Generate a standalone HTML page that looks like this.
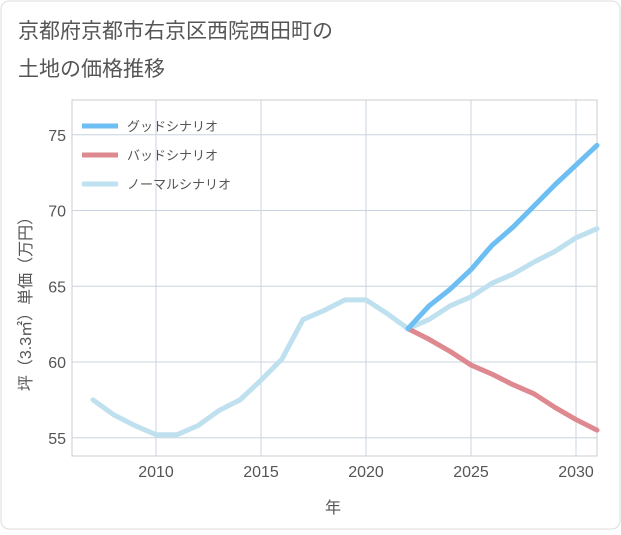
<!DOCTYPE html>
<html><head><meta charset="utf-8"><style>
body{margin:0;background:#fff;}
svg text{font-family:"Liberation Sans","Noto Sans CJK JP",sans-serif;}
</style></head><body>
<svg id="c" width="621" height="530" xmlns="http://www.w3.org/2000/svg">
<rect x="1" y="1" width="619" height="528" rx="8" fill="#fff" stroke="#ddd"/>
<text x="18" y="38" font-size="21" fill="#555">京都府京都市右京区西院西田町の</text>
<text x="18" y="76" font-size="21" fill="#555">土地の価格推移</text>
<g id="grid"></g>
<g id="series"></g>
<g id="legend"></g>
<text x="333" y="513" font-size="16" fill="#555" text-anchor="middle">年</text>
<text transform="translate(31,300) rotate(-90)" font-size="16" fill="#555" text-anchor="middle">坪（3.3㎡）単価（万円）</text>
</svg>
<script>
const years=[2007,2008,2009,2010,2011,2012,2013,2014,2015,2016,2017,2018,2019,2020,2021,2022,2023,2024,2025,2026,2027,2028,2029,2030,2031];
const normal=[57.5,56.5,55.8,55.2,55.2,55.8,56.8,57.5,58.8,60.2,62.8,63.4,64.1,64.1,63.2,62.2,62.8,63.7,64.3,65.2,65.8,66.6,67.3,68.2,68.8];
const goodYears=[2022,2023,2024,2025,2026,2027,2028,2029,2030,2031];
const good=[62.2,63.7,64.8,66.1,67.7,68.9,70.3,71.7,73.0,74.3];
const bad=[62.2,61.5,60.7,59.8,59.2,58.5,57.9,57.0,56.2,55.5];
const xTicks=[2010,2015,2020,2025,2030];
const yTicks=[55,60,65,70,75];
const legendLabels=["グッドシナリオ","バッドシナリオ","ノーマルシナリオ"];
const NS="http://www.w3.org/2000/svg";
const L=72,R=597,T=100,B=456;
const x=v=>156+(v-2010)*21;
const y=v=>362-(v-60)*15.15;
function mk(tag,attrs,parent){const e=document.createElementNS(NS,tag);for(const k in attrs)e.setAttribute(k,attrs[k]);parent.appendChild(e);return e;}
const g=document.getElementById('grid');
const f=mk('rect',{x:L,y:T,width:R-L,height:B-T,fill:'none',stroke:'#ccc'},g);


xTicks.forEach(t=>{
 const l=mk('line',{x1:x(t),x2:x(t),y1:T,y2:B,stroke:'#c8d4e0'},g);
 
 
 const tx=mk('text',{x:x(t),y:B+21,'font-size':16,fill:'#555','text-anchor':'middle'},g);tx.textContent=t;
 
 
});
yTicks.forEach(t=>{
 const l=mk('line',{x1:L,x2:R,y1:y(t),y2:y(t),stroke:'#c8d4e0'},g);
 
 
 const tx=mk('text',{x:L-6,y:y(t)+6,'font-size':16,fill:'#555','text-anchor':'end'},g);tx.textContent=t;
 
 
});
const s=document.getElementById('series');
function line(xs,vs,color,name){
 const p=mk('polyline',{points:xs.map((yr,i)=>x(yr)+','+y(vs[i])).join(' '),fill:'none',stroke:color,'stroke-width':5,'stroke-linejoin':'round','stroke-linecap':'round'},s);
 
 
}
line(years,normal,'#bfe0ee','normal-line');
line(goodYears,bad,'#de8890','bad-line');
line(goodYears,good,'#6cbef3','good-line');
const lg=document.getElementById('legend');
const colors=['#6cbef3','#de8890','#bfe0ee'];
legendLabels.forEach((t,i)=>{
 const yy=126+i*29;
 const l=mk('line',{x1:82,x2:118,y1:yy,y2:yy,stroke:colors[i],'stroke-width':5},lg);
 
 
 const tx=mk('text',{x:127,y:yy+5,'font-size':13,fill:'#555'},lg);tx.textContent=t;
 
 
});
</script>
</body></html>
